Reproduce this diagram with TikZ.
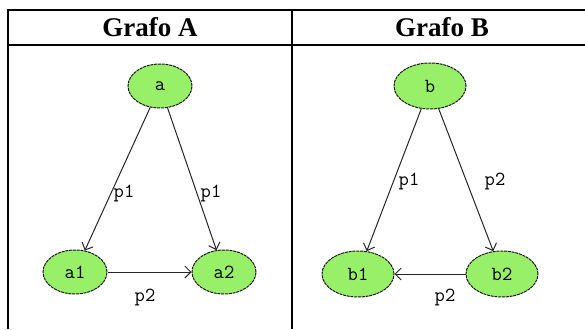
\documentclass[tikz,border=0pt]{standalone}
\usepackage{fontspec}
\setmainfont{Liberation Serif}
\usepackage{xcolor}
\usetikzlibrary{shapes.geometric, arrows.meta}
\definecolor{nodegreen}{RGB}{152,240,104}

\begin{document}
\begin{tikzpicture}[x=1pt, y=-1pt,
    vertexA/.style={ellipse, draw=black!90, fill=nodegreen, line width=1pt,
      dash pattern=on 3pt off 0.8pt, minimum width=64pt, minimum height=44pt,
      inner sep=0pt, font=\ttfamily\fontsize{20}{20}\selectfont},
    vertexB/.style={vertexA, minimum width=72pt, minimum height=46pt},
    edge/.style={draw=black!85, line width=1pt, -{Straight Barb[length=6pt,width=12pt]}},
    elabel/.style={font=\ttfamily\fontsize{20}{20}\selectfont, inner sep=0pt},
    header/.style={font=\bfseries\fontsize{27}{27}\selectfont, anchor=base}]

  \useasboundingbox (0,0) rectangle (585,329);

  % Table frame
  \draw[line width=2pt] (8,329) -- (8,10) -- (585,10);
  \draw[line width=2pt] (8,45) -- (585,45);
  \draw[line width=2pt] (292,10) -- (292,329);

  % Column headers
  \node[header] (headA) at (150,37) {Grafo A};
  \node[header] (headB) at (442,37) {Grafo B};

  % Grafo A
  \node[vertexA] (a) at (160,86) {a};
  \node[vertexA] (a1) at (75,272) {a1};
  \node[vertexA] (a2) at (224,272) {a2};
  \draw[edge] (a) -- (a1);
  \draw[edge] (a) -- (a2);
  \draw[edge] (a1) -- (a2);
  \node[elabel] (pa1) at (124,193) {p1};
  \node[elabel] (pa2) at (211,193) {p1};
  \node[elabel] (pa3) at (145,297) {p2};

  % Grafo B
  \node[vertexB] (b) at (430,86) {b};
  \node[vertexB] (b1) at (358,274) {b1};
  \node[vertexB] (b2) at (502,274) {b2};
  \draw[edge] (b) -- (b1);
  \draw[edge] (b) -- (b2);
  \draw[edge] (b2) -- (b1);
  \node[elabel] (pb1) at (409,181) {p1};
  \node[elabel] (pb2) at (495,181) {p2};
  \node[elabel] (pb3) at (445,297) {p2};
\end{tikzpicture}
\end{document}
